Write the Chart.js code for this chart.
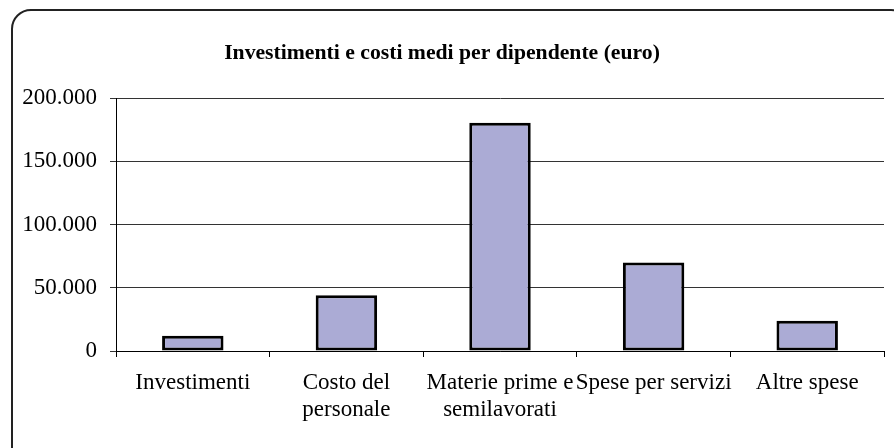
<!DOCTYPE html>
<html lang="it">
<head>
  <meta charset="UTF-8" />
  <title>Investimenti e costi medi per dipendente</title>
  <script src="https://cdn.jsdelivr.net/npm/chart.js"></script>
  <style>
    * { margin: 0; padding: 0; box-sizing: border-box; }
    body {
      width: 894px;
      height: 448px;
      overflow: hidden;
      background: #fff;
      position: relative;
    }
    .frame {
      position: absolute;
      left: 11px;
      top: 9px;
      width: 900px;
      height: 460px;
      border: 2px solid #222;
      border-radius: 20px;
    }
    .chart-box {
      position: absolute;
      left: 0;
      top: 0;
      width: 894px;
      height: 448px;
    }
  </style>
</head>
<body>
  <div class="frame"></div>
  <div class="chart-box">
    <canvas id="costChart"></canvas>
  </div>

  <script>
    const categories = [
      'Investimenti',
      ['Costo del', 'personale'],
      ['Materie prime e', 'semilavorati'],
      'Spese per servizi',
      'Altre spese'
    ];
    const values = [12000, 44000, 180500, 70000, 24000];
    const yTickValues = [0, 50000, 100000, 150000, 200000];
    const yTickLabels = ['0', '50.000', '100.000', '150.000', '200.000'];

    const serif = "'Liberation Serif', 'Times New Roman', serif";

    const ctx = document.getElementById('costChart').getContext('2d');
    new Chart(ctx, {
      type: 'bar',
      data: {
        labels: categories,
        datasets: [{
          label: 'Euro',
          data: values,
          backgroundColor: '#ababd5',
          borderColor: '#000',
          borderWidth: 3,
          borderSkipped: false,
          categoryPercentage: 1,
          barPercentage: 0.4
        }]
      },
      options: {
        responsive: true,
        maintainAspectRatio: false,
        animation: false,
        layout: { padding: { left: 0, right: 10, top: 0, bottom: 0 } },
        plugins: {
          legend: { display: false },
          tooltip: { enabled: false },
          title: {
            display: true,
            text: 'Investimenti e costi medi per dipendente (euro)',
            color: '#000',
            font: { family: serif, size: 21.7, weight: 'bold', lineHeight: 1.2 },
            padding: { top: 40, bottom: 32 }
          }
        },
        scales: {
          x: {
            grid: {
              offset: true,
              drawOnChartArea: false,
              drawTicks: true,
              tickLength: 6,
              color: '#000'
            },
            border: { display: true, color: '#000', width: 1 },
            ticks: {
              color: '#000',
              font: { family: serif, size: 23, lineHeight: 1.15 },
              padding: 13,
              maxRotation: 0,
              autoSkip: false
            },
            afterFit: (scale) => { scale.height = 97; }
          },
          y: {
            min: 0,
            max: 200000,
            afterBuildTicks: (scale) => {
              scale.ticks = yTickValues.map(v => ({ value: v }));
            },
            grid: {
              color: '#333',
              tickLength: 6
            },
            border: { display: true, color: '#000', width: 1 },
            ticks: {
              color: '#000',
              font: { family: serif, size: 23 },
              padding: 13,
              callback: (value) => yTickLabels[yTickValues.indexOf(value)]
            },
            afterFit: (scale) => { scale.width = 116; }
          }
        }
      }
    });
  </script>
</body>
</html>
